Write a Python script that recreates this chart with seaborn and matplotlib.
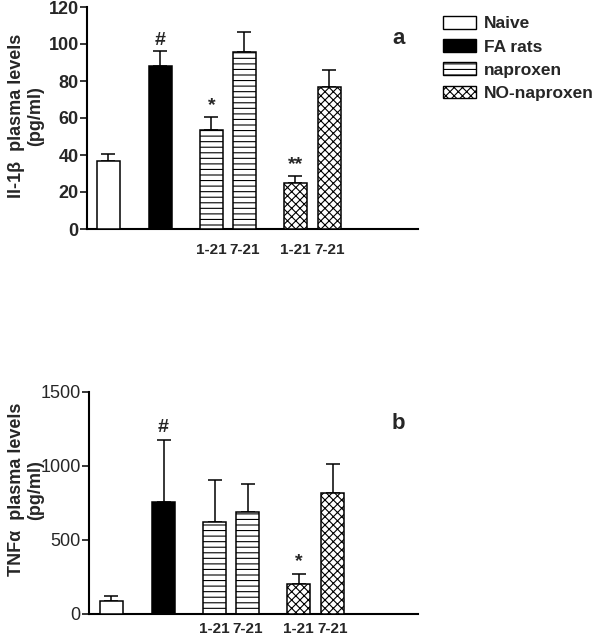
import matplotlib
matplotlib.use("Agg")
import matplotlib.pyplot as plt
import seaborn as sns
import numpy as np
import pandas as pd
from matplotlib.patches import Patch

sns.set_style("white")
plt.rcParams['font.family'] = ['Liberation Sans', 'DejaVu Sans']
plt.rcParams['hatch.linewidth'] = 0.8

# ---- data ----
groups = ["Naive", "FA rats", "naproxen", "naproxen", "NO-naproxen", "NO-naproxen"]
tick_labels = ["", "", "1-21", "7-21", "1-21", "7-21"]
il1b_mean = [36.5, 88, 53.5, 95.5, 25, 77]
il1b_top = [40.5, 96, 60.5, 106.5, 28.5, 86]
il1b_marks = ["", "#", "*", "", "**", ""]
tnfa_mean = [90, 760, 625, 690, 200, 815]
tnfa_top = [125, 1175, 905, 880, 270, 1015]
tnfa_marks = ["", "#", "", "", "*", ""]

legend_labels = ["Naive", "FA rats", "naproxen", "NO-naproxen"]

# ---- layout / style ----
xpos = [0, 1.58, 3.13, 4.13, 5.67, 6.70]
styles = {
    "Naive": dict(facecolor="white", hatch=None),
    "FA rats": dict(facecolor="black", hatch=None),
    "naproxen": dict(facecolor="white", hatch="---"),
    "NO-naproxen": dict(facecolor="white", hatch="xxxx"),
}

fig = plt.figure(figsize=(5.95, 6.4), dpi=100)
ax_a = fig.add_axes([87/595, 1-229/640, (418-87)/595, (229-7)/640])
ax_b = fig.add_axes([89/595, 1-614/640, (418-89)/595, (614-392)/640])


def panel(ax, mean, top, marks, ylim, yticks, ylabel, letter, bold_ticks,
          mark_off, xlim, xpad, label_xy):
    df = pd.DataFrame({"x": xpos, "y": mean})
    sns.barplot(data=df, x="x", y="y", native_scale=True, width=0.70,
                color="white", edgecolor="black", linewidth=1.1, ax=ax,
                errorbar=None)
    for p, g in zip(ax.patches, groups):
        st = styles[g]
        p.set_facecolor(st["facecolor"])
        if st["hatch"]:
            p.set_hatch(st["hatch"])
        p.set_edgecolor("black")
        p.set_zorder(3)
    err = np.array(top) - np.array(mean)
    ax.errorbar(xpos, mean, yerr=[np.zeros(len(err)), err], fmt="none",
                ecolor="black", elinewidth=1.1, capsize=5, capthick=1.1, zorder=2)
    for x, t, m in zip(xpos, top, marks):
        if m:
            ax.text(x, t + mark_off, m, ha="center", va="bottom",
                    fontsize=14, fontweight="bold")
    ax.set_xlim(*xlim)
    ax.set_ylim(*ylim)
    ax.set_yticks(yticks)
    ax.set_yticklabels([str(v) for v in yticks], fontsize=13,
                       fontweight="bold" if bold_ticks else "normal")
    ax.set_xticks(xpos)
    ax.set_xticklabels(tick_labels, fontsize=11, fontweight="bold")
    ax.tick_params(axis="x", length=0, pad=xpad)
    ax.tick_params(axis="y", length=5, width=1.3, direction="out", left=True, pad=1)
    ax.set_xlabel("")
    ax.set_ylabel(ylabel, fontsize=13, fontweight="bold", linespacing=1.15)
    ax.yaxis.set_label_coords(*label_xy)
    for s in ["top", "right"]:
        ax.spines[s].set_visible(False)
    for s in ["left", "bottom"]:
        ax.spines[s].set_linewidth(1.5)
        ax.spines[s].set_color("black")
    ax.text(0.94, 0.86, letter, transform=ax.transAxes, fontsize=16,
            fontweight="bold", ha="center", va="center")


panel(ax_a, il1b_mean, il1b_top, il1b_marks, (0, 120), [0, 20, 40, 60, 80, 100, 120],
      "Il-1\u03b2  plasma levels\n(pg/ml)", "a", True, 1.5, (-0.64, 9.39), 10,
      (-0.13, 0.51))
panel(ax_b, tnfa_mean, tnfa_top, tnfa_marks, (0, 1500), [0, 500, 1000, 1500],
      "TNF\u03b1  plasma levels\n(pg/ml)", "b", False, 25, (-0.68, 9.29), 6,
      (-0.137, 0.56))

handles = [Patch(facecolor=styles[g]["facecolor"], edgecolor="black",
                 hatch=styles[g]["hatch"], linewidth=1.0) for g in legend_labels]
leg = fig.legend(handles, legend_labels, loc="upper left",
                 bbox_to_anchor=(443/595, 1-16/640), frameon=False,
                 prop=dict(size=12.5, weight="bold"), handlelength=1.9,
                 handleheight=0.75, handletextpad=0.45, labelspacing=0.45,
                 borderaxespad=0, borderpad=0)

fig.savefig("out.png", dpi=100)
